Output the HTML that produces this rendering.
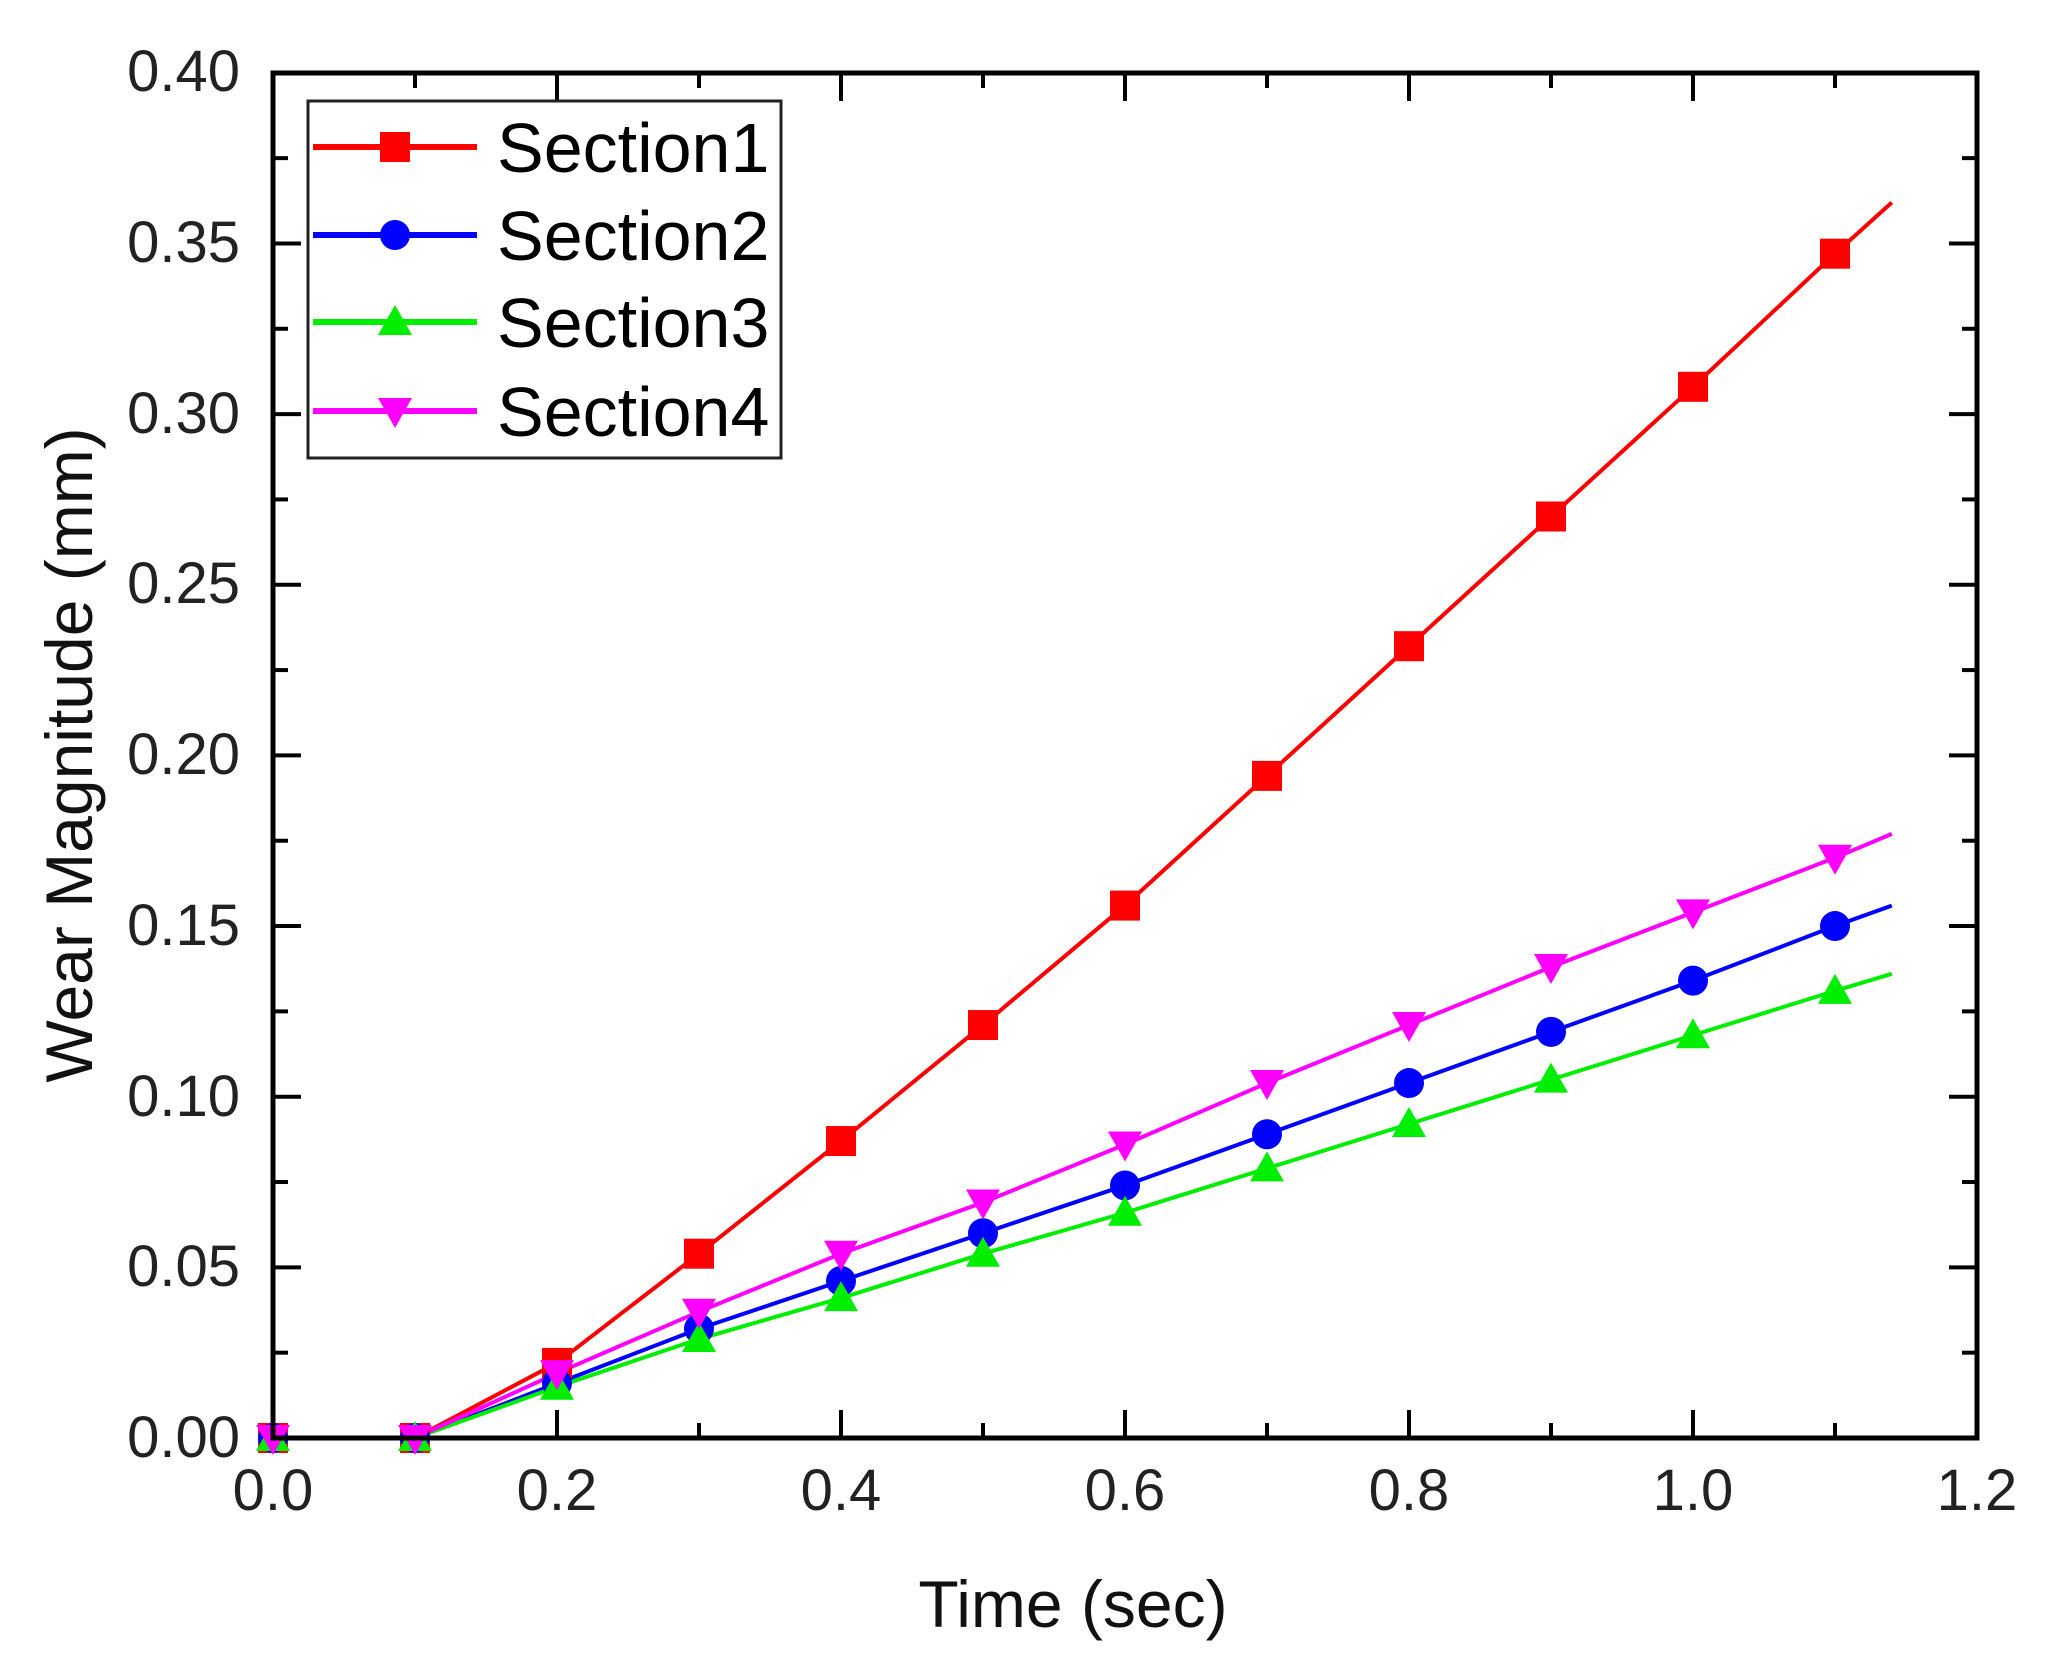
<!DOCTYPE html>
<html><head><meta charset="utf-8"><style>html,body{margin:0;padding:0;background:#fff}</style></head>
<body>
<svg width="2051" height="1663" xmlns="http://www.w3.org/2000/svg" font-family="Liberation Sans, sans-serif">
<rect width="2051" height="1663" fill="#fff"/>
<g id="ticks" stroke="#000" stroke-width="4"></g>
<g id="series"></g>
<rect x="273" y="73" width="1704" height="1365" fill="none" stroke="#000" stroke-width="5"/>
<g font-size="58" fill="#222" text-anchor="end">
<text x="240" y="1457">0.00</text><text x="240" y="1286">0.05</text><text x="240" y="1116">0.10</text><text x="240" y="945">0.15</text><text x="240" y="774">0.20</text><text x="240" y="603">0.25</text><text x="240" y="433">0.30</text><text x="240" y="262">0.35</text><text x="240" y="91">0.40</text>
</g>
<g font-size="58" fill="#222" text-anchor="middle">
<text x="273" y="1510">0.0</text><text x="557" y="1510">0.2</text><text x="841" y="1510">0.4</text><text x="1125" y="1510">0.6</text><text x="1409" y="1510">0.8</text><text x="1693" y="1510">1.0</text><text x="1977" y="1510">1.2</text>
</g>
<text x="1073" y="1627" font-size="66" text-anchor="middle" fill="#111">Time (sec)</text>
<text transform="translate(92,755) rotate(-90)" font-size="66" text-anchor="middle" fill="#111">Wear Magnitude (mm)</text>
<rect x="308" y="101" width="473" height="357" fill="#fff" stroke="#222" stroke-width="3"/>
<g id="legend"></g>
<g font-size="70" fill="#000">
<text x="497" y="172">Section1</text><text x="497" y="260">Section2</text><text x="497" y="347">Section3</text><text x="497" y="436">Section4</text>
</g>
<script>
const NS="http://www.w3.org/2000/svg";
const X=v=>273+v*1420,Y=v=>1438-v*3413;
const t=document.getElementById('ticks');
function ln(g,x1,y1,x2,y2,c,w){const l=document.createElementNS(NS,'line');l.setAttribute('x1',x1);l.setAttribute('y1',y1);l.setAttribute('x2',x2);l.setAttribute('y2',y2);if(c){l.setAttribute('stroke',c);l.setAttribute('stroke-width',w)}g.appendChild(l)}
for(let i=0;i<=16;i++){const y=Y(i*0.025),L=i%2?15:28;ln(t,273,y,273+L,y);ln(t,1977,y,1977-L,y)}
for(let i=0;i<=12;i++){const x=X(i*0.1),L=i%2?15:28;ln(t,x,1438,x,1438-L);ln(t,x,73,x,73+L)}
const S=[
["#ff0000","sq",[0,0,0.022,0.054,0.087,0.121,0.156,0.194,0.232,0.270,0.308,0.347],0.362],
["#0000ff","ci",[0,0,0.016,0.032,0.046,0.060,0.074,0.089,0.104,0.119,0.134,0.150],0.156],
["#00ee00","tu",[0,0,0.015,0.029,0.041,0.054,0.066,0.079,0.092,0.105,0.118,0.131],0.136],
["#ff00ff","td",[0,0,0.019,0.037,0.054,0.069,0.086,0.104,0.121,0.138,0.154,0.170],0.177]];
const sg=document.getElementById('series'),lg=document.getElementById('legend');
function mk(g,type,x,y,c){let e;const r=15;
 if(type=='sq'){e=document.createElementNS(NS,'rect');e.setAttribute('x',x-r);e.setAttribute('y',y-r);e.setAttribute('width',2*r);e.setAttribute('height',2*r)}
 else if(type=='ci'){e=document.createElementNS(NS,'circle');e.setAttribute('cx',x);e.setAttribute('cy',y);e.setAttribute('r',r)}
 else if(type=='tu'){e=document.createElementNS(NS,'polygon');e.setAttribute('points',`${x},${y-r-2} ${x+r+2},${y+r-2} ${x-r-2},${y+r-2}`)}
 else {e=document.createElementNS(NS,'polygon');e.setAttribute('points',`${x},${y+r+2} ${x+r+2},${y-r+2} ${x-r-2},${y-r+2}`)}
 e.setAttribute('fill',c);g.appendChild(e)}
S.forEach((s,k)=>{const p=s[2].map((v,i)=>[X(i*0.1),Y(v)]);p.push([X(1.14),Y(s[3])]);
 const pl=document.createElementNS(NS,'polyline');pl.setAttribute('points',p.map(a=>a.join(',')).join(' '));pl.setAttribute('fill','none');pl.setAttribute('stroke',s[0]);pl.setAttribute('stroke-width',4);sg.appendChild(pl);
 const ly=[147,235,322,411][k];ln(lg,313,ly,477,ly,s[0],6);mk(lg,s[1],395,ly,s[0]);});
S.forEach(s=>{s[2].forEach((v,i)=>mk(sg,s[1],X(i*0.1),Y(v),s[0]))});
</script>
</svg>
</body></html>
